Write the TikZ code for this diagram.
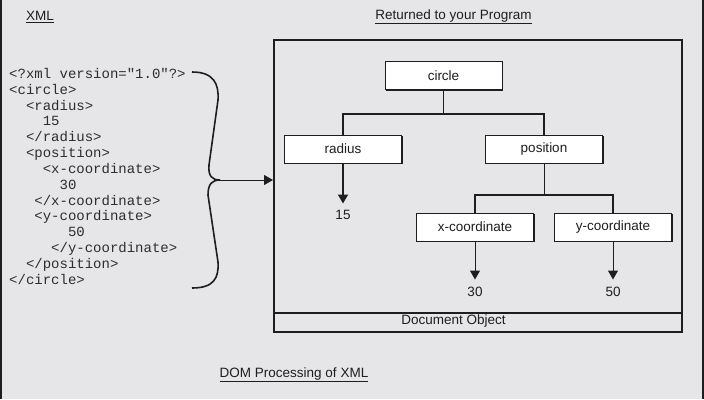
\documentclass[tikz,border=0pt]{standalone}
\usepackage{fontspec}
\setmainfont{Liberation Sans}
\newfontfamily\codefont{Liberation Mono}
\usepackage{xcolor}
\usetikzlibrary{positioning,shadows,arrows.meta}
\definecolor{pagegray}{RGB}{230,230,232}
\definecolor{inkgray}{RGB}{30,30,30}
\definecolor{codegray}{RGB}{45,45,45}

\begin{document}
\begin{tikzpicture}[
    x=1pt, y=-1pt,
    box/.style={
        draw=inkgray, line width=1pt, fill=white,
        minimum width=117pt, minimum height=28pt, inner sep=0pt,
        font=\fontsize{13.5}{15}\selectfont, text=inkgray,
        general shadow={shadow xshift=1pt, shadow yshift=-1pt, fill=inkgray}
    },
    title/.style={font=\fontsize{13.5}{15}\selectfont, text=inkgray, inner sep=0pt},
    value/.style={font=\fontsize{13.5}{15}\selectfont, text=inkgray, inner xsep=0pt, inner ysep=7pt},
    link/.style={draw=inkgray, line width=1pt},
    bus/.style={draw=inkgray, line width=1.8pt},
    arrow/.style={-{Triangle[width=10pt,length=9pt]}}
]
\useasboundingbox (0,0) rectangle (704,399);
\fill[pagegray] (0,0) rectangle (704,399);
\draw[line width=2pt, inkgray] (1,0) -- (1,399);
\draw[line width=2pt, inkgray] (702.5,0) -- (702.5,399);

% titles
\node[title] (xmltitle) at (40,17) {\underline{XML}};
\node[title] (rettitle) at (453.5,17) {\underline{Returned to your Program}};
\node[title] (domtitle) at (294,375) {\underline{DOM Processing of XML}};

% xml source
\node[anchor=north west, inner sep=0pt, align=left, text=codegray,
    font=\codefont\fontsize{14}{15.85}\selectfont] (xmlcode) at (9,68) {<?xml version="1.0"?>\\
<circle>\\
~~<radius>\\
~~~~15\\
~~</radius>\\
~~<position>\\
~~~~<x-coordinate>\\
~~~~~~30\\
~~~</x-coordinate>\\
~~~<y-coordinate>\\
~~~~~~~50\\
~~~~~</y-coordinate>\\
~~</position>\\
</circle>};

% brace and arrow
\coordinate (bracetop) at (192,72);
\coordinate (cusp) at (220,180);
\coordinate (bracebottom) at (192,288);
\draw[inkgray, line width=1.6pt] (bracetop) .. controls (214,72) and (219,84) .. (218,100)
    -- (209,165) .. controls (208,176) and (212,180) .. (cusp)
    .. controls (212,180) and (208,184) .. (208,195)
    -- (218,262) .. controls (219,278) and (214,288) .. (bracebottom);

% document object frame
\node[draw=inkgray, line width=2pt, minimum width=408pt, minimum height=292pt] (dom) at (478,186) {};
\node[draw=inkgray, line width=2pt, minimum width=408pt, minimum height=19pt, inner sep=0pt,
    anchor=south] (docobj) at (dom.south) {};
\node[title] (docobjlabel) at (453.5,321.5) {Document Object};
\draw[link, arrow] (cusp) -- (cusp -| dom.west);

% tree
\node[box] (circle) at (443.5,75.5) {circle};
\node[box] (radius) at (343,149) {radius};
\node[box, right=83pt of radius] (position) {position};
\node[box] (xcoord) at (475,227) {x-coordinate};
\node[box, right=20pt of xcoord] (ycoord) {y-coordinate};

\node[value, below=40pt of radius] (r15) {15};
\node[value, below=38pt of xcoord] (x30) {30};
\node[value, below=38pt of ycoord] (y50) {50};

\coordinate (split1) at (443.5,114);
\coordinate (split2) at (544,195);

\draw[link] (circle) -- (split1);
\draw[bus] (radius.north) |- (split1) -| (position.north);
\draw[link] (position) -- (split2);
\draw[bus] (xcoord.north) |- (split2) -| (ycoord.north);

\draw[bus, arrow] (radius) -- (r15);
\draw[link, arrow] (xcoord) -- (x30);
\draw[link, arrow] (ycoord) -- (y50);

\end{tikzpicture}
\end{document}
